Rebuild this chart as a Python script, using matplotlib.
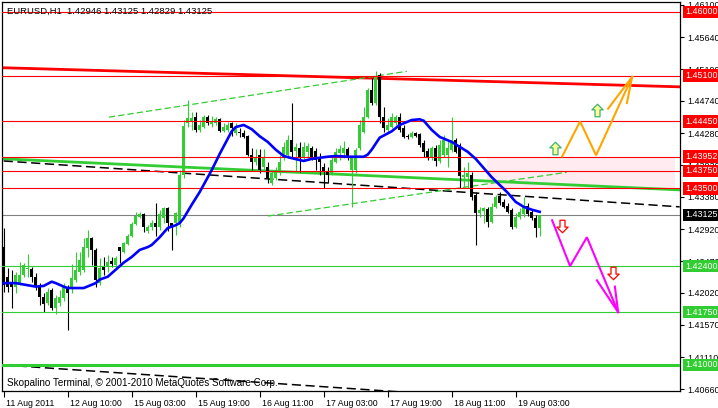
import numpy as np
import matplotlib.pyplot as plt
from matplotlib.path import Path
import matplotlib.transforms as mtransforms

plt.rcParams['font.family'] = ['Liberation Sans', 'DejaVu Sans']

# EURUSD H1 candles, 11 Aug 2011 18:00 .. 19 Aug 2011 09:00
opens = [
    1.4267, 1.4225, 1.4216, 1.4211, 1.4216, 1.4228, 1.4236, 1.4236, 1.4225, 1.4213,
    1.4197, 1.4188, 1.4206, 1.4181, 1.4188, 1.4195, 1.4211, 1.4209, 1.4221, 1.4232,
    1.4235, 1.4266, 1.4280, 1.4263, 1.4216, 1.4239, 1.4239, 1.4247, 1.4242, 1.4267,
    1.4260, 1.4272, 1.4283, 1.4300, 1.4310, 1.4314, 1.4290, 1.4296, 1.4301, 1.4296,
    1.4308, 1.4322, 1.4301, 1.4301, 1.4301, 1.4369, 1.4443, 1.4444, 1.4451, 1.4433,
    1.4437, 1.4451, 1.4441, 1.4443, 1.4448, 1.4431, 1.4433, 1.4443, 1.4429, 1.4430,
    1.4429, 1.4424, 1.4398, 1.4387, 1.4398, 1.4380, 1.4380, 1.4358, 1.4365, 1.4373,
    1.4395, 1.4398, 1.4419, 1.4403, 1.4407, 1.4395, 1.4402, 1.4407, 1.4403, 1.4395,
    1.4380, 1.4373, 1.4372, 1.4387, 1.4400, 1.4400, 1.4406, 1.4376, 1.4376, 1.4407,
    1.4430, 1.4451, 1.4490, 1.4471, 1.4511, 1.4451, 1.4433, 1.4437, 1.4443, 1.4451,
    1.4436, 1.4424, 1.4423, 1.4429, 1.4427, 1.4414, 1.4403, 1.4395, 1.4407, 1.4389,
    1.4398, 1.4398, 1.4405, 1.4419, 1.4412, 1.4366, 1.4366, 1.4369, 1.4341, 1.4315,
    1.4318, 1.4321, 1.4303, 1.4324, 1.4339, 1.4331, 1.4325, 1.4320, 1.4296, 1.4310,
    1.4314, 1.4325, 1.4317, 1.4308, 1.42946,
]
highs = [
    1.4294, 1.4238, 1.4235, 1.4232, 1.4246, 1.4245, 1.4257, 1.4239, 1.4231, 1.4216,
    1.4202, 1.4209, 1.4209, 1.4199, 1.4206, 1.4216, 1.4213, 1.4243, 1.4260, 1.4260,
    1.4280, 1.4291, 1.4281, 1.4266, 1.4252, 1.4253, 1.4256, 1.4253, 1.4255, 1.4267,
    1.4274, 1.4285, 1.4303, 1.4317, 1.4317, 1.4315, 1.4298, 1.4305, 1.4330, 1.4320,
    1.4324, 1.4324, 1.4301, 1.4317, 1.4376, 1.4447, 1.4475, 1.4458, 1.4458, 1.4447,
    1.4454, 1.4454, 1.4453, 1.4451, 1.4450, 1.4443, 1.4444, 1.4444, 1.4443, 1.4436,
    1.4433, 1.4426, 1.4407, 1.4406, 1.4406, 1.4406, 1.4387, 1.4376, 1.4380, 1.4398,
    1.4416, 1.4426, 1.4471, 1.4414, 1.4416, 1.4416, 1.4414, 1.4410, 1.4407, 1.4400,
    1.4386, 1.4380, 1.4395, 1.4407, 1.4412, 1.4417, 1.4409, 1.4395, 1.4407, 1.4447,
    1.4465, 1.4492, 1.4507, 1.4516, 1.4514, 1.4465, 1.4450, 1.4457, 1.4454, 1.4457,
    1.4440, 1.4427, 1.4431, 1.4430, 1.4429, 1.4419, 1.4407, 1.4410, 1.4412, 1.4419,
    1.4426, 1.4419, 1.4451, 1.4422, 1.4414, 1.4380, 1.4387, 1.4373, 1.4345, 1.4324,
    1.4324, 1.4324, 1.4330, 1.4341, 1.4345, 1.4335, 1.4330, 1.4322, 1.4315, 1.4322,
    1.4338, 1.4330, 1.4320, 1.4313, 1.43125,
]
lows = [
    1.4204, 1.4204, 1.4181, 1.4202, 1.4213, 1.4225, 1.4225, 1.4218, 1.4206, 1.4185,
    1.4175, 1.4185, 1.4178, 1.4172, 1.4183, 1.4190, 1.4150, 1.4202, 1.4218, 1.4228,
    1.4232, 1.4253, 1.4242, 1.4211, 1.4213, 1.4228, 1.4232, 1.4239, 1.4238, 1.4245,
    1.4259, 1.4270, 1.4281, 1.4298, 1.4308, 1.4288, 1.4287, 1.4291, 1.4283, 1.4291,
    1.4301, 1.4290, 1.4263, 1.4284, 1.4296, 1.4365, 1.4437, 1.4433, 1.4430, 1.4430,
    1.4436, 1.4440, 1.4437, 1.4440, 1.4430, 1.4430, 1.4430, 1.4424, 1.4426, 1.4423,
    1.4421, 1.4396, 1.4376, 1.4383, 1.4372, 1.4376, 1.4358, 1.4355, 1.4362, 1.4369,
    1.4390, 1.4393, 1.4393, 1.4373, 1.4373, 1.4390, 1.4395, 1.4390, 1.4376, 1.4369,
    1.4351, 1.4358, 1.4369, 1.4386, 1.4390, 1.4393, 1.4390, 1.4324, 1.4372, 1.4405,
    1.4429, 1.4450, 1.4468, 1.4468, 1.4443, 1.4430, 1.4430, 1.4436, 1.4440, 1.4430,
    1.4421, 1.4420, 1.4421, 1.4423, 1.4409, 1.4395, 1.4390, 1.4390, 1.4382, 1.4386,
    1.4395, 1.4380, 1.4402, 1.4400, 1.4351, 1.4352, 1.4351, 1.4334, 1.4270, 1.4310,
    1.4301, 1.4296, 1.4301, 1.4322, 1.4327, 1.4322, 1.4315, 1.4293, 1.4294, 1.4307,
    1.4310, 1.4311, 1.4305, 1.4281, 1.42829,
]
closes = [
    1.4213, 1.4211, 1.4211, 1.4228, 1.4228, 1.4242, 1.4237, 1.4225, 1.4211, 1.4197,
    1.4187, 1.4204, 1.4181, 1.4195, 1.4197, 1.4211, 1.4202, 1.4223, 1.4235, 1.4249,
    1.4267, 1.4280, 1.4263, 1.4221, 1.4238, 1.4235, 1.4246, 1.4243, 1.4252, 1.4262,
    1.4273, 1.4283, 1.4300, 1.4311, 1.4314, 1.4296, 1.4296, 1.4301, 1.4296, 1.4314,
    1.4322, 1.4301, 1.4296, 1.4315, 1.4369, 1.4439, 1.4450, 1.4450, 1.4433, 1.4440,
    1.4451, 1.4443, 1.4446, 1.4448, 1.4431, 1.4437, 1.4440, 1.4436, 1.4437, 1.4429,
    1.4423, 1.4398, 1.4387, 1.4395, 1.4376, 1.4395, 1.4365, 1.4372, 1.4376, 1.4387,
    1.4409, 1.4419, 1.4402, 1.4409, 1.4395, 1.4409, 1.4410, 1.4395, 1.4390, 1.4387,
    1.4373, 1.4369, 1.4390, 1.4402, 1.4406, 1.4407, 1.4395, 1.4393, 1.4405, 1.4440,
    1.4451, 1.4490, 1.4471, 1.4508, 1.4451, 1.4436, 1.4440, 1.4451, 1.4451, 1.4433,
    1.4423, 1.4423, 1.4429, 1.4424, 1.4412, 1.4402, 1.4395, 1.4407, 1.4389, 1.4412,
    1.4419, 1.4407, 1.4419, 1.4402, 1.4368, 1.4369, 1.4372, 1.4338, 1.4315, 1.4320,
    1.4322, 1.4303, 1.4324, 1.4338, 1.4330, 1.4324, 1.4317, 1.4296, 1.4310, 1.4317,
    1.4324, 1.4314, 1.4308, 1.4294, 1.43125,
]

# moving average (blue) read at bar positions
ma_bars = [0, 3, 6, 8, 10, 12, 13, 15, 16, 20, 23, 24, 26, 28, 30, 32, 34, 36, 37, 39,
           41, 43, 44, 45, 47, 49, 52, 54, 57, 58, 60, 62, 64, 66, 68, 70, 72, 75, 77, 81,
           83, 86, 90, 91, 92, 94, 97, 99, 102, 104, 105, 107, 109, 112, 114, 116, 118,
           120, 122, 124, 126, 128, 130, 132, 134]
ma_vals = [1.4216, 1.4216, 1.4213, 1.4211, 1.4212, 1.4218, 1.4216, 1.4211, 1.4209, 1.4209,
           1.4216, 1.4221, 1.4225, 1.4235, 1.4245, 1.4253, 1.4263, 1.4267, 1.4270, 1.4281,
           1.4294, 1.4298, 1.4301, 1.4308, 1.4327, 1.4345, 1.4376, 1.4399, 1.4431, 1.4437,
           1.4440, 1.4434, 1.4424, 1.4416, 1.4405, 1.4396, 1.4393, 1.4389, 1.4392, 1.4395,
           1.4396, 1.4395, 1.4395, 1.4398, 1.4405, 1.4422, 1.4431, 1.4440, 1.4447, 1.4448,
           1.4446, 1.4433, 1.4423, 1.4416, 1.4409, 1.4402, 1.4392, 1.4379, 1.4366, 1.4355,
           1.4344, 1.4331, 1.4324, 1.4320, 1.4317]

# horizontal levels
levels = [1.4600, 1.4510, 1.4445, 1.43952, 1.4375, 1.4350, 1.4240, 1.4175, 1.4100]
level_colors = ['#FF0000'] * 6 + ['#32CD32'] * 3
level_widths = [0.8] * 8 + [2.2]
last_price = 1.43125

# trend lines: (bar, price) anchors
red_trend = [(0, 1.4521), (169, 1.4494)]
green_trend = [(0, 1.4392), (169, 1.4348)]
black_upper = [(0, 1.4389), (169, 1.4324)]
black_lower = [(0, 1.4100), (169, 1.4035)]
chan_upper = [(26.3, 1.4451), (100.8, 1.4516)]
chan_lower = [(66.1, 1.4311), (140.8, 1.4373)]
zone_bars = (120.8, 167.8)
zone_prices = (1.4350, 1.43952)

# projected paths
orange_bars = [139.6, 144.1, 148.1, 157.1]
orange_prices = [1.43952, 1.4445, 1.4397, 1.4508]
orange_head = [(151.1, 1.4463), (155.8, 1.4471)]
magenta_bars = [137.1, 141.6, 145.8, 153.6]
magenta_prices = [1.4305, 1.4240, 1.4281, 1.4175]
magenta_head = [(148.3, 1.4220), (152.8, 1.4211)]
up_marks = [(137.8, 1.4407), (148.3, 1.4461)]
down_marks = [(139.6, 1.4297), (152.3, 1.4230)]

axis_ticks = [1.46100, 1.45640, 1.45190, 1.44740, 1.44280, 1.43830, 1.43380,
              1.42920, 1.42470, 1.42020, 1.41570, 1.41110, 1.40660]
time_ticks = [0, 16, 32, 48, 64, 80, 96, 112, 128]
time_labels = ['11 Aug 2011', '12 Aug 10:00', '15 Aug 03:00', '15 Aug 19:00',
               '16 Aug 11:00', '17 Aug 03:00', '17 Aug 19:00', '18 Aug 11:00',
               '19 Aug 03:00']

GREEN = '#32CD32'

fig = plt.figure(figsize=(7.18, 4.08), dpi=100)
ax = fig.add_axes([2 / 718, 17 / 408, 678 / 718, 389 / 408])
ax.set_xlim(-0.425, 169.075)
ax.set_ylim(1.406317, 1.461416)

# zone
ax.fill_between(zone_bars, zone_prices[0], zone_prices[1], color='#FFEBF0', lw=0, zorder=0.5)

# candles
x = np.arange(len(closes))
o, h, l, c = (np.array(v) for v in (opens, highs, lows, closes))
cols = np.where(c >= o, GREEN, 'black')
ax.vlines(x, l, h, colors=cols, lw=0.8, zorder=3)
ax.bar(x, np.maximum(np.abs(c - o), 0.00012), bottom=np.minimum(o, c), width=0.72,
       color=cols, lw=0, zorder=3)

# moving average
ax.plot(ma_bars, ma_vals, color='#0000FF', lw=1.9, zorder=4)

# levels
for p, col, w in zip(levels, level_colors, level_widths):
    ax.axhline(p, color=col, lw=w, zorder=3.5)
ax.axhline(last_price, color='#808080', lw=0.8, zorder=2)

# trend lines
def seg(pts, **kw):
    ax.plot([pts[0][0], pts[1][0]], [pts[0][1], pts[1][1]], **kw)

seg(red_trend, color='#FF0000', lw=2.0, zorder=2.5)
seg(green_trend, color=GREEN, lw=2.0, zorder=2.5)
seg(black_upper, color='black', lw=1.1, dashes=(6, 3), zorder=2.5)
seg(black_lower, color='black', lw=1.1, dashes=(6, 3), zorder=2.5)
seg(chan_upper, color=GREEN, lw=0.9, dashes=(5, 2.5), zorder=2.5)
seg(chan_lower, color=GREEN, lw=0.9, dashes=(5, 2.5), zorder=2.5)

# projections
ax.plot(orange_bars, orange_prices, color='#FFA500', lw=1.5, zorder=5, solid_joinstyle='miter')
for hb, hp in orange_head:
    ax.plot([hb, orange_bars[-1]], [hp, orange_prices[-1]], color='#FFA500', lw=1.5, zorder=5)
ax.plot(magenta_bars, magenta_prices, color='#FF00FF', lw=1.5, zorder=5, solid_joinstyle='miter')
for hb, hp in magenta_head:
    ax.plot([hb, magenta_bars[-1]], [hp, magenta_prices[-1]], color='#FF00FF', lw=1.5, zorder=5)

up_arrow = Path([(0, 1), (0.9, 0.1), (0.4, 0.1), (0.4, -1), (-0.4, -1), (-0.4, 0.1),
                 (-0.9, 0.1), (0, 1)], closed=True)
down_arrow = Path([(0, -1), (0.9, -0.1), (0.4, -0.1), (0.4, 1), (-0.4, 1), (-0.4, -0.1),
                   (-0.9, -0.1), (0, -1)], closed=True)
for b, p in up_marks:
    ax.plot(b, p, marker=up_arrow, ms=9, mfc='#FFFF99', mec='#3CB371', mew=0.9, zorder=6)
for b, p in down_marks:
    ax.plot(b, p, marker=down_arrow, ms=9, mfc='white', mec='#FF0000', mew=0.9, zorder=6)

# axes styling
for s in ax.spines.values():
    s.set_color('black')
    s.set_linewidth(0.9)
ax.yaxis.tick_right()
ax.set_yticks(axis_ticks)
ax.set_yticklabels([f'{v:.5f}' for v in axis_ticks])
ax.tick_params(axis='y', length=3, width=0.8, pad=2, labelsize=6.4)
ax.set_xticks(time_ticks)
ax.set_xticklabels(time_labels, ha='left')
ax.tick_params(axis='x', length=4, width=0.8, pad=1.5, labelsize=6.3)
offset = mtransforms.ScaledTranslation(2 / 100, 0, fig.dpi_scale_trans)
for lab in ax.get_xticklabels():
    lab.set_transform(lab.get_transform() + offset)

# price boxes on the right axis
for p, col in zip(levels + [last_price], level_colors + ['black']):
    ax.annotate(f'{p:.5f}', xy=(1, p), xycoords=('axes fraction', 'data'),
                xytext=(5, 0), textcoords='offset pixels', ha='left', va='center',
                color='white', fontsize=6.4, annotation_clip=False, zorder=10,
                bbox=dict(boxstyle='square,pad=0.2', fc=col, ec='none'))

fig.text(7 / 718, 1 - 11 / 408, 'EURUSD,H1  1.42946 1.43125 1.42829 1.43125',
         fontsize=6.8, va='center', ha='left', zorder=10)
fig.text(7 / 718, 1 - 383 / 408,
         'Skopalino Terminal, \u00a9 2001-2010 MetaQuotes Software Corp.',
         fontsize=7.1, va='center', ha='left', zorder=10)

fig.savefig('out.png', dpi=100, facecolor='white')
